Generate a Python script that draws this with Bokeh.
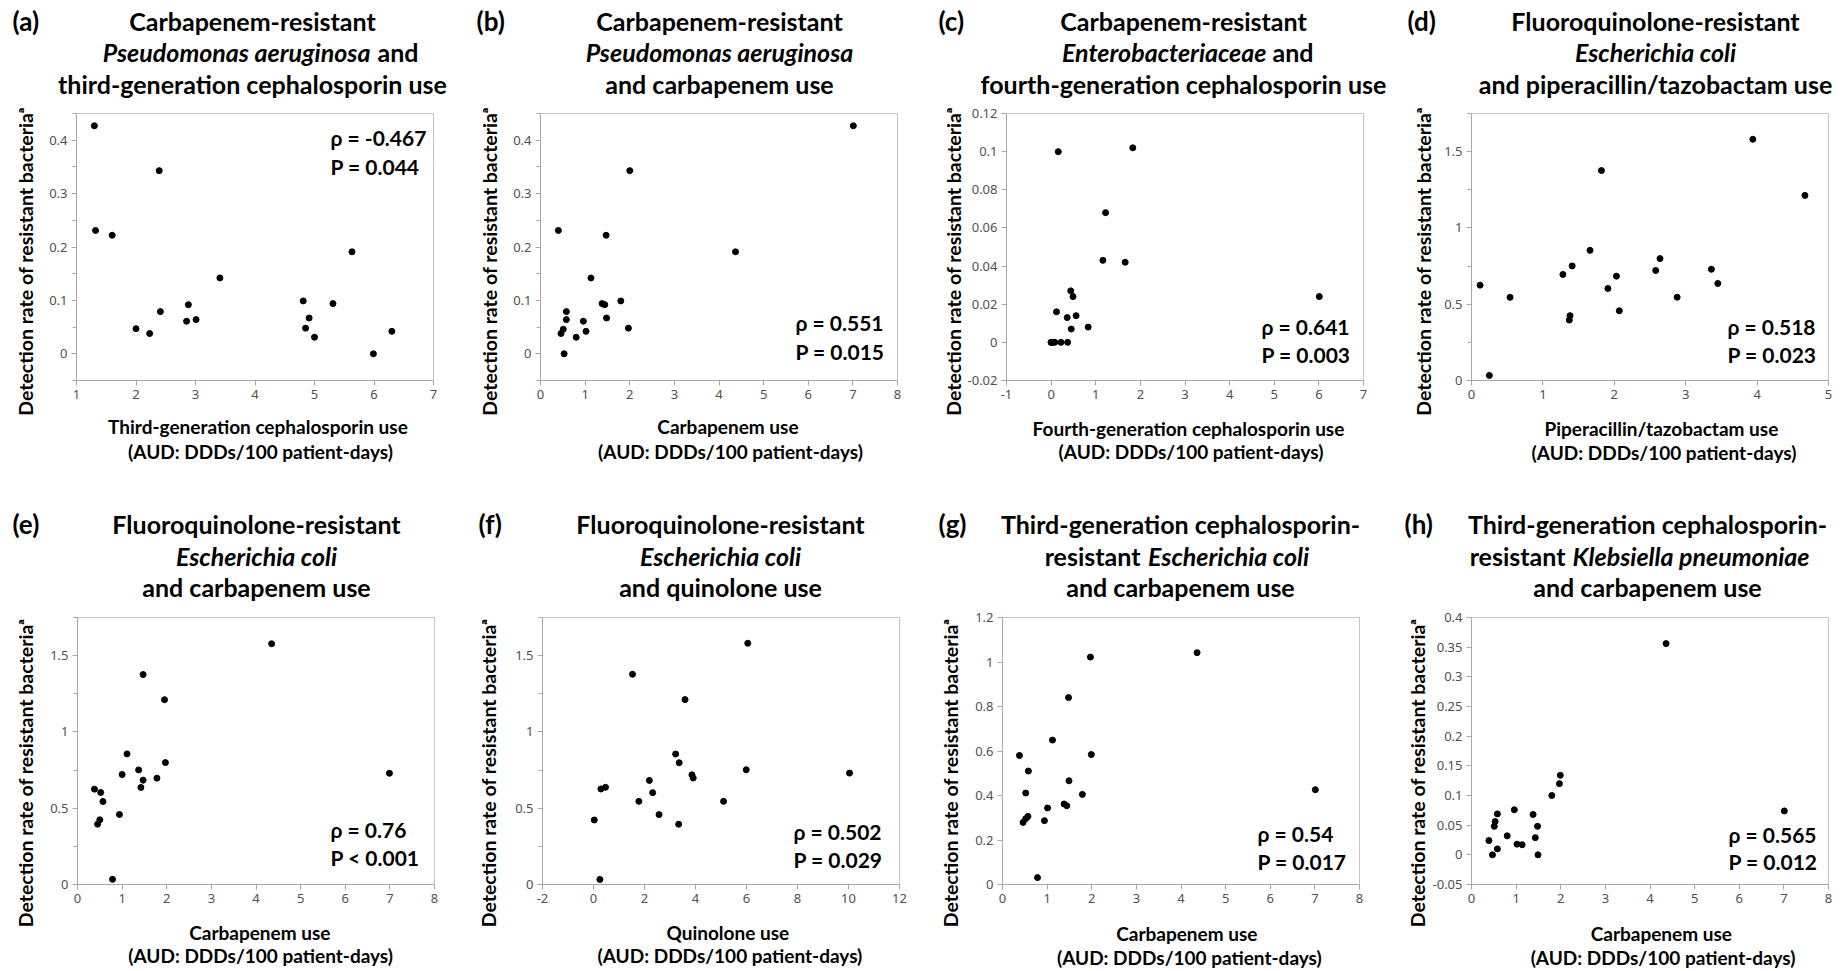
import math
from bokeh.plotting import figure
from bokeh.layouts import row, column
from bokeh.models import Label, Range1d, FixedTicker, CustomJSTickFormatter
from bokeh.embed import file_html
from bokeh.resources import INLINE

# ---------------- data ----------------
a_x = [1.30, 1.32, 1.60, 2.39, 2.00, 2.23, 2.41, 2.85, 2.88, 3.01, 3.41, 4.81, 4.91, 4.85, 5.00, 5.31, 5.63, 5.99, 6.30]
a_y = [0.427, 0.231, 0.222, 0.343, 0.047, 0.038, 0.079, 0.061, 0.092, 0.064, 0.142, 0.099, 0.067, 0.048, 0.031, 0.094, 0.191, 0.000, 0.042]

b_x = [7.01, 2.00, 0.40, 1.47, 4.37, 1.13, 1.80, 1.38, 1.44, 0.58, 0.58, 1.48, 0.96, 1.97, 0.51, 0.46, 1.02, 0.80, 0.53]
b_y = [0.427, 0.343, 0.231, 0.222, 0.191, 0.142, 0.099, 0.094, 0.092, 0.079, 0.064, 0.067, 0.061, 0.048, 0.046, 0.038, 0.042, 0.031, 0.000]

c_x = [0.16, 1.83, 1.22, 1.16, 1.66, 6.01, 0.44, 0.49, 0.12, 0.36, 0.56, 0.83, 0.45, 0.00, 0.00, 0.04, 0.08, 0.22, 0.37]
c_y = [0.100, 0.102, 0.068, 0.043, 0.042, 0.024, 0.027, 0.024, 0.016, 0.013, 0.014, 0.008, 0.007, 0.0, 0.0, 0.0, 0.0, 0.0, 0.0]

d_x = [0.12, 0.25, 0.54, 1.28, 1.37, 1.38, 1.41, 1.66, 1.82, 1.91, 2.03, 2.07, 2.58, 2.64, 2.88, 3.36, 3.45, 3.94, 4.67]
d_y = [0.625, 0.033, 0.545, 0.695, 0.396, 0.425, 0.751, 0.853, 1.376, 0.603, 0.684, 0.457, 0.721, 0.799, 0.546, 0.729, 0.636, 1.581, 1.213]

e_x = [4.35, 1.47, 1.95, 1.11, 1.97, 1.37, 6.99, 1.00, 1.78, 1.47, 1.42, 0.38, 0.52, 0.57, 0.94, 0.50, 0.45, 0.785]
e_y = [1.578, 1.376, 1.211, 0.856, 0.799, 0.751, 0.729, 0.721, 0.697, 0.684, 0.636, 0.625, 0.603, 0.544, 0.459, 0.424, 0.395, 0.034]

f_x = [6.05, 1.53, 3.59, 3.22, 3.36, 5.99, 10.04, 3.86, 3.91, 2.19, 0.47, 0.29, 2.32, 1.78, 5.10, 2.57, 0.03, 3.34, 0.25]
f_y = [1.581, 1.378, 1.212, 0.855, 0.798, 0.752, 0.730, 0.719, 0.698, 0.682, 0.637, 0.626, 0.602, 0.545, 0.545, 0.458, 0.423, 0.395, 0.033]

g_x = [4.36, 1.97, 1.48, 1.12, 0.38, 1.99, 0.58, 1.49, 0.52, 1.79, 7.01, 1.38, 1.44, 1.01, 0.94, 0.57, 0.52, 0.46, 0.785]
g_y = [1.042, 1.022, 0.840, 0.649, 0.580, 0.584, 0.510, 0.466, 0.411, 0.405, 0.426, 0.362, 0.354, 0.344, 0.287, 0.306, 0.296, 0.279, 0.031]

h_x = [4.36, 1.99, 1.97, 1.80, 7.01, 0.96, 0.58, 1.38, 0.53, 0.51, 1.48, 1.43, 0.80, 0.39, 1.02, 1.135, 0.58, 0.47, 1.49]
h_y = [0.356, 0.134, 0.120, 0.100, 0.074, 0.076, 0.069, 0.068, 0.056, 0.048, 0.048, 0.029, 0.032, 0.024, 0.018, 0.017, 0.010, 0.000, 0.000]

panel_letters = ["(a)", "(b)", "(c)", "(d)", "(e)", "(f)", "(g)", "(h)"]

# title lines: list of segments (text, italic?)
titles = [
    [[("Carbapenem-resistant", False)], [("Pseudomonas aeruginosa", True), ("and", False)], [("third-generation cephalosporin use", False)]],
    [[("Carbapenem-resistant", False)], [("Pseudomonas aeruginosa", True)], [("and carbapenem use", False)]],
    [[("Carbapenem-resistant", False)], [("Enterobacteriaceae", True), ("and", False)], [("fourth-generation cephalosporin use", False)]],
    [[("Fluoroquinolone-resistant", False)], [("Escherichia coli", True)], [("and piperacillin/tazobactam use", False)]],
    [[("Fluoroquinolone-resistant", False)], [("Escherichia coli", True)], [("and carbapenem use", False)]],
    [[("Fluoroquinolone-resistant", False)], [("Escherichia coli", True)], [("and quinolone use", False)]],
    [[("Third-generation cephalosporin-", False)], [("resistant", False), ("Escherichia coli", True)], [("and carbapenem use", False)]],
    [[("Third-generation cephalosporin-", False)], [("resistant", False), ("Klebsiella pneumoniae", True)], [("and carbapenem use", False)]],
]

x_labels = [
    "Third-generation cephalosporin use", "Carbapenem use", "Fourth-generation cephalosporin use",
    "Piperacillin/tazobactam use", "Carbapenem use", "Quinolone use", "Carbapenem use", "Carbapenem use",
]
x_label_unit = "(AUD: DDDs/100 patient-days)"
y_label = "Detection rate of resistant bacteria\u1d43"

stats = [
    ("\u03c1 = -0.467", "P = 0.044"), ("\u03c1 = 0.551", "P = 0.015"), ("\u03c1 = 0.641", "P = 0.003"),
    ("\u03c1 = 0.518", "P = 0.023"), ("\u03c1 = 0.76", "P < 0.001"), ("\u03c1 = 0.502", "P = 0.029"),
    ("\u03c1 = 0.54", "P = 0.017"), ("\u03c1 = 0.565", "P = 0.012"),
]

xs = [a_x, b_x, c_x, d_x, e_x, f_x, g_x, h_x]
ys = [a_y, b_y, c_y, d_y, e_y, f_y, g_y, h_y]

x_ranges = [(1, 7), (0, 8), (-1, 7), (0, 5), (0, 8), (-2, 12), (0, 8), (0, 8)]
y_ranges = [(-0.05, 0.45), (-0.05, 0.45), (-0.02, 0.12), (0, 1.75), (0, 1.75), (0, 1.75), (0, 1.2), (-0.05, 0.4)]

x_ticks = [
    [1, 2, 3, 4, 5, 6, 7], [0, 1, 2, 3, 4, 5, 6, 7, 8], [-1, 0, 1, 2, 3, 4, 5, 6, 7], [0, 1, 2, 3, 4, 5],
    [0, 1, 2, 3, 4, 5, 6, 7, 8], [-2, 0, 2, 4, 6, 8, 10, 12], [0, 1, 2, 3, 4, 5, 6, 7, 8], [0, 1, 2, 3, 4, 5, 6, 7, 8],
]
y_ticks = [
    [0, 0.1, 0.2, 0.3, 0.4], [0, 0.1, 0.2, 0.3, 0.4],
    [-0.02, 0, 0.02, 0.04, 0.06, 0.08, 0.1, 0.12],
    [0, 0.5, 1, 1.5], [0, 0.5, 1, 1.5], [0, 0.5, 1, 1.5],
    [0, 0.2, 0.4, 0.6, 0.8, 1, 1.2],
    [-0.05, 0, 0.05, 0.1, 0.15, 0.2, 0.25, 0.3, 0.35, 0.4],
]
y_minor = [
    [-0.05, 0.05, 0.15, 0.25, 0.35, 0.45], [-0.05, 0.05, 0.15, 0.25, 0.35, 0.45], [],
    [0.25, 0.75, 1.25, 1.75], [0.25, 0.75, 1.25, 1.75], [0.25, 0.75, 1.25, 1.75], [], [],
]

# ---------------- layout geometry (page pixels) ----------------
FW, FH = 357, 267
COL_X = [0, 460, 920, 1390]
COL_W = [460, 460, 470, 450]
ROW_Y = [0, 470]
ROW_H = [470, 500]
HEAD_H = [102, 136]
LEFT_W = [37, 41, 44, 42, 37, 40, 42, 39]
SCAT_B = 30
FRAME_L = [76, 540, 1003, 1468, 77, 542, 1002, 1467]
FRAME_T = [113, 113, 113, 113, 617, 617, 617, 617]

LETTER_X = [12, 476, 938, 1404, 12, 478, 938, 1404]
TITLE_CX = [252, 719, 1183, 1652, 256, 720, 1180, 1647]
TITLE_Y = [[20, 51.7, 83], [523.3, 555, 586.7]]
SPLIT = {0: (370, 377), 2: (1266, 1272), 6: (1140, 1147.5), 7: (1565, 1572)}
XLAB_CX = [(252, 255), (721, 724), (1183, 1186), (1649, 1652), (253, 254), (718, 720.5), (1183, 1186), (1650, 1652)]
XLAB_Y = [(426, 451), (426, 451), (427.5, 451), (427.5, 451.5), (931.5, 955), (931.5, 955), (933, 956.5), (933, 956.5)]
YLAB_X = [25, 489, 953, 1420, 25, 488, 950, 1417]
YLAB_Y = [261, 261, 261, 261, 772.5, 772.5, 772.5, 772.5]
STAT_X = [330, 795, 1258, 1724, 330, 793, 1257, 1724]
STAT_Y = [(136.7, 165.7), (321.7, 350.7), (326, 354), (326, 354), (829.3, 856.7), (830.7, 859.3), (833.3, 861), (834, 861)]

TXT_FONT = "Lato"
TICK_FONT = "Noto Sans"
TITLE_SIZE = 25
LETTER_SIZE = 26
XLAB_SIZE = 19
YLAB_SIZE = 19.5
STAT_SIZE = 21

fmt = CustomJSTickFormatter(code="return tick.toString();")


def helper(w, h):
    f = figure(width=w, height=h, x_range=Range1d(0, w), y_range=Range1d(h, 0),
               min_border=0, toolbar_location=None, output_backend="svg", title=None,
               x_axis_location=None, y_axis_location=None,
               background_fill_color="white", border_fill_color="white")
    f.outline_line_color = None
    f.grid.visible = False
    return f


def put(f, ox, oy, X, Y, text, size, style, align, angle=0.0):
    f.add_layout(Label(x=X - ox, y=Y - oy, text=text, text_font=TXT_FONT,
                       text_font_size=f"{size}px", text_font_style=style,
                       text_align=align, text_baseline="middle", angle=angle,
                       text_color="black"))


def make_panel(i):
    r, c = divmod(i, 4)
    px, py = COL_X[c], ROW_Y[r]
    PW, PH = COL_W[c], ROW_H[r]
    HH = HEAD_H[r]
    LW = LEFT_W[i]
    fl, ft = FRAME_L[i], FRAME_T[i]
    mb_left = fl - px - LW
    mb_top = ft - (py + HH)
    mb_right = PW - LW - mb_left - FW
    SH = mb_top + FH + SCAT_B
    foot_h = PH - HH - SH

    # --- header: panel letter + title lines
    head = helper(PW, HH)
    ty = TITLE_Y[r]
    put(head, px, py, LETTER_X[i], ty[0], panel_letters[i], LETTER_SIZE, "bold", "left")
    for li, segs in enumerate(titles[i]):
        if len(segs) == 1:
            txt, it = segs[0]
            put(head, px, py, TITLE_CX[i], ty[li], txt, TITLE_SIZE, "bold italic" if it else "bold", "center")
        else:
            s_end, s_start = SPLIT[i]
            (t1, i1), (t2, i2) = segs
            put(head, px, py, s_end, ty[li], t1, TITLE_SIZE, "bold italic" if i1 else "bold", "right")
            put(head, px, py, s_start, ty[li], t2, TITLE_SIZE, "bold italic" if i2 else "bold", "left")

    # --- left strip: rotated y-axis label
    left = helper(LW, PH - HH)
    put(left, px, py + HH, YLAB_X[i], YLAB_Y[i], y_label, YLAB_SIZE, "bold", "center", angle=math.pi / 2)

    # --- scatter plot
    p = figure(frame_width=FW, frame_height=FH,
               x_range=Range1d(*x_ranges[i]), y_range=Range1d(*y_ranges[i]),
               min_border_left=mb_left, min_border_right=mb_right,
               min_border_top=mb_top, min_border_bottom=SCAT_B,
               toolbar_location=None, output_backend="svg", title=None,
               background_fill_color="white", border_fill_color="white")
    p.grid.visible = False
    p.outline_line_color = "#c4c4c4"
    p.outline_line_width = 1
    for ax in (p.xaxis[0], p.yaxis[0]):
        ax.axis_line_color = "#a8a8a8"
        ax.major_tick_line_color = "#a8a8a8"
        ax.minor_tick_line_color = "#a8a8a8"
        ax.major_tick_in = 0
        ax.major_tick_out = 5
        ax.minor_tick_in = 0
        ax.minor_tick_out = 4
        ax.major_label_text_font = TICK_FONT
        ax.major_label_text_font_size = "13px"
        ax.major_label_text_color = "#505050"
        ax.major_label_standoff = 4
        ax.formatter = fmt
    p.xaxis[0].ticker = FixedTicker(ticks=x_ticks[i], minor_ticks=[])
    p.yaxis[0].ticker = FixedTicker(ticks=y_ticks[i], minor_ticks=y_minor[i])
    p.scatter(xs[i], ys[i], size=6, color="black", marker="circle")

    fb = ft + FH
    for k in range(2):
        p.add_layout(Label(x=STAT_X[i] - fl, y=fb - STAT_Y[i][k], x_units="screen", y_units="screen",
                           text=stats[i][k], text_font=TXT_FONT, text_font_size=f"{STAT_SIZE}px",
                           text_font_style="bold", text_align="left", text_baseline="middle",
                           text_color="black"))

    # --- footer: x-axis label (two lines)
    foot = helper(PW - LW, foot_h)
    fox, foy = px + LW, py + HH + SH
    put(foot, fox, foy, XLAB_CX[i][0], XLAB_Y[i][0], x_labels[i], XLAB_SIZE, "bold", "center")
    put(foot, fox, foy, XLAB_CX[i][1], XLAB_Y[i][1], x_label_unit, XLAB_SIZE, "bold", "center")

    return column(head, row(left, column(p, foot, spacing=0), spacing=0), spacing=0)


panels = [make_panel(i) for i in range(8)]
layout = column(row(*panels[:4], spacing=0), row(*panels[4:], spacing=0), spacing=0)

open("out.html", "w").write(file_html(layout, INLINE))
